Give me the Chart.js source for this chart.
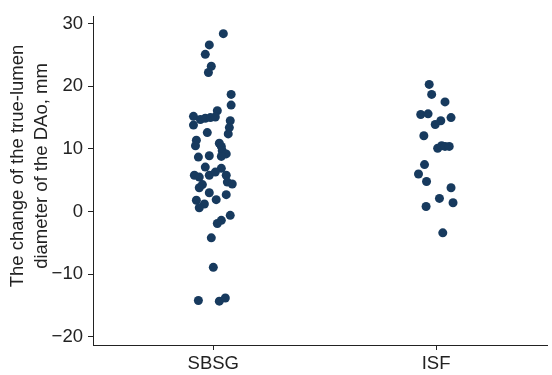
<!DOCTYPE html>
<html>
<head>
<meta charset="utf-8">
<script src="https://cdn.jsdelivr.net/npm/chart.js@4/dist/chart.umd.min.js"></script>
<style>
  html, body { margin: 0; padding: 0; background: #ffffff; }
  #wrap { width: 552px; height: 375px; position: relative; }
</style>
</head>
<body>
<div id="wrap"><canvas id="c" width="552" height="375"></canvas></div>
<script>
const categories = ['SBSG', 'ISF'];
const yTicks = [-20, -10, 0, 10, 20, 30];
const yTitle = ['The change of the true-lumen', 'diameter of the DAo, mm'];

const sbsgValues = [28.4, 26.6, 25.1, 23.2, 22.2, 18.7, 17.0, 16.1, 15.2, 14.7, 14.9, 15.0, 15.1, 14.5,
  13.8, 13.4, 12.6, 12.4, 11.4, 10.9, 10.5, 10.4, 9.7, 9.2, 8.7, 8.9, 8.8, 7.1, 6.9, 5.8, 5.5, 5.8,
  6.3, 5.8, 4.7, 4.4, 4.3, 3.8, 3.0, 2.7, 1.8, 1.9, 1.2, 0.6, -0.6, -1.4, -1.9, -4.2, -8.9, -14.2, -14.3, -13.8];
const sbsgJitter = [0.045, -0.018, -0.036, -0.009, -0.022, 0.080, 0.080, 0.018, -0.089, -0.058, -0.036, -0.013, 0.009, 0.076,
  -0.089, 0.072, -0.027, 0.067, -0.076, 0.027, -0.080, 0.036, 0.040, 0.058, -0.067, -0.018, 0.036, -0.036, 0.036, -0.085, -0.063, -0.018,
  0.009, 0.058, 0.063, 0.085, -0.049, -0.063, -0.018, 0.058, -0.076, 0.013, -0.040, -0.063, 0.076, 0.036, 0.018, -0.009, 0.000, -0.067, 0.027, 0.054];

const isfValues = [20.3, 18.7, 17.5, 15.5, 15.6, 15.0, 14.5, 13.9, 12.1, 10.1, 10.5, 10.4, 10.4, 7.5, 6.0, 4.8, 3.8, 2.1, 1.4, 0.8, -3.4];
const isfJitter = [-0.031, -0.020, 0.040, -0.069, -0.036, 0.067, 0.021, -0.004, -0.055, 0.007, 0.025, 0.040, 0.059, -0.052, -0.079, -0.043, 0.067, 0.015, 0.076, -0.045, 0.030];

function toPoints(values, jitter, pos) {
  return values.map((v, i) => ({ x: pos + jitter[i], y: v }));
}

const dotColor = '#173a5e';
const axisColor = '#222222';
const fontFamily = '"Liberation Sans", Arial, Helvetica, sans-serif';
const fontSize = 18.5;

// y-axis title drawn as canvas text, centred where the reference places it
const yTitlePlugin = {
  id: 'yTitlePlugin',
  afterDraw(chart) {
    const ctx = chart.ctx;
    ctx.save();
    ctx.fillStyle = axisColor;
    ctx.font = fontSize + 'px ' + fontFamily;
    ctx.textAlign = 'center';
    ctx.textBaseline = 'middle';
    const cy = 166;
    yTitle.forEach((line, i) => {
      ctx.save();
      ctx.translate(18 + i * 24, cy);
      ctx.rotate(-Math.PI / 2);
      ctx.fillText(line, 0, 0);
      ctx.restore();
    });
    ctx.restore();
  }
};

new Chart(document.getElementById('c'), {
  type: 'scatter',
  data: {
    datasets: [
      { label: categories[0], data: toPoints(sbsgValues, sbsgJitter, 1), backgroundColor: dotColor, borderWidth: 0, pointRadius: 4.5, pointHoverRadius: 4.5 },
      { label: categories[1], data: toPoints(isfValues, isfJitter, 2), backgroundColor: dotColor, borderWidth: 0, pointRadius: 4.5, pointHoverRadius: 4.5 }
    ]
  },
  plugins: [yTitlePlugin],
  options: {
    responsive: false,
    animation: false,
    events: [],
    layout: { padding: { top: 13, right: 2, left: 0, bottom: 0 } },
    plugins: { legend: { display: false }, tooltip: { enabled: false } },
    scales: {
      x: {
        type: 'linear',
        min: 0.46,
        max: 2.5,
        afterBuildTicks: (s) => { s.ticks = categories.map((c, i) => ({ value: i + 1 })); },
        afterFit: (s) => { s.height = 30; },
        ticks: {
          callback: (v) => categories[Math.round(v) - 1],
          color: axisColor,
          font: { family: fontFamily, size: fontSize },
          padding: 3,
          maxRotation: 0,
          autoSkip: false
        },
        grid: { display: true, drawOnChartArea: false, drawTicks: true, tickLength: 5, color: axisColor, lineWidth: 1 },
        border: { display: true, color: axisColor, width: 1 }
      },
      y: {
        min: -21.3,
        max: 31.2,
        afterBuildTicks: (s) => { s.ticks = yTicks.map(v => ({ value: v })); },
        afterFit: (s) => { s.width = 93; },
        ticks: {
          color: axisColor,
          font: { family: fontFamily, size: fontSize },
          padding: 5,
          callback: (v) => (v < 0 ? '\u2212' + Math.abs(v) : String(v))
        },
        grid: { display: true, drawOnChartArea: false, drawTicks: true, tickLength: 5, color: axisColor, lineWidth: 1 },
        border: { display: true, color: axisColor, width: 1 },
        title: { display: false }
      }
    }
  }
});
</script>
</body>
</html>
